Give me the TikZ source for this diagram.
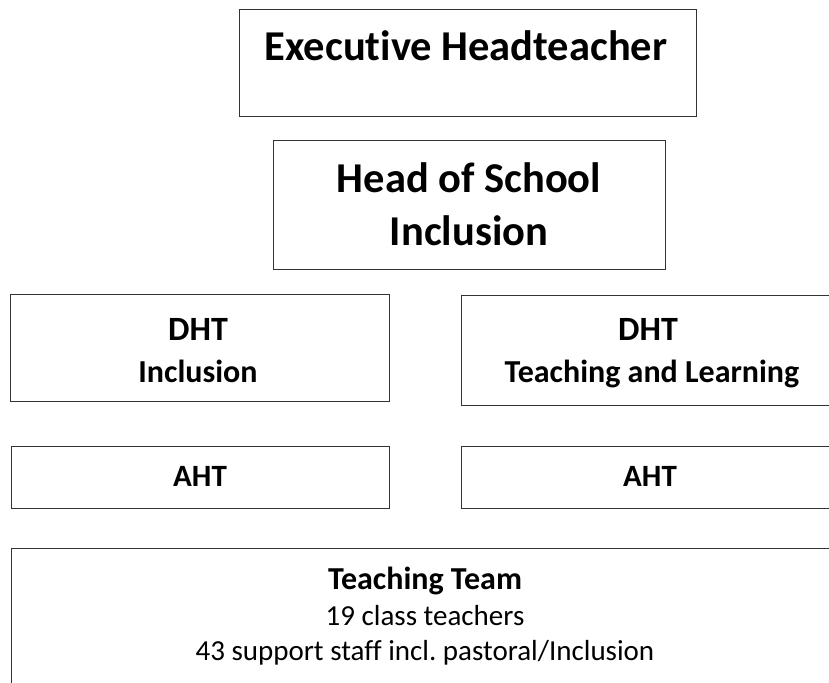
\documentclass[tikz,border=0pt]{standalone}
\usepackage{fontspec}
\setmainfont{Carlito}[Ligatures=NoCommon]
\frenchspacing
\tikzset{
  orgbox/.style={draw=black!80, line width=1.2pt, rectangle, inner sep=0pt, anchor=north west},
  txt/.style={anchor=base, inner sep=0pt, font=#1},
}
\begin{document}
\begin{tikzpicture}[x=1pt,y=-1pt]
\useasboundingbox (0,0) rectangle (829,682);
\clip (0,0) rectangle (829,682);
% boxes
\node[orgbox, minimum width=457pt, minimum height=107pt] (exec) at (239,9) {};
\node[orgbox, minimum width=392pt, minimum height=129pt] (hos) at (273,140) {};
\node[orgbox, minimum width=379pt, minimum height=107pt] (dhtL) at (10,294) {};
\node[orgbox, minimum width=378pt, minimum height=110pt] (dhtR) at (461,295) {};
\node[orgbox, minimum width=378pt, minimum height=62pt] (ahtL) at (11,446) {};
\node[orgbox, minimum width=378pt, minimum height=62pt] (ahtR) at (461,446) {};
\node[orgbox, minimum width=828pt, minimum height=160pt] (team) at (11,548) {};
% texts
\node[txt={\fontsize{42.5}{52}\bfseries}] (t1) at (466,61) {Executive Headteacher};
\node[txt={\fontsize{42.5}{52}\bfseries}] (t2) at (469,192) {Head of School};
\node[txt={\fontsize{42.5}{52}\bfseries}] (t3) at (469,245) {Inclusion};
\node[txt={\fontsize{34}{40}\bfseries}] (t4) at (198,340) {DHT};
\node[txt={\fontsize{32}{38}\bfseries}] (t5) at (198,382) {Inclusion};
\node[txt={\fontsize{34}{40}\bfseries}] (t6) at (648,340) {DHT};
\node[txt={\fontsize{32}{38}\bfseries}] (t7) at (652,382) {Teaching and Learning};
\node[txt={\fontsize{31}{38}\bfseries}] (t8) at (200,486) {AHT};
\node[txt={\fontsize{31}{38}\bfseries}] (t9) at (650,486) {AHT};
\node[txt={\fontsize{32}{38}\bfseries}] (t10) at (425,589) {Teaching Team};
\node[txt={\fontsize{29}{35}\selectfont}] (t11) at (425,625) {19 class teachers};
\node[txt={\fontsize{29}{35}\selectfont}] (t12) at (425,660) {43 support staff incl. pastoral/Inclusion};
\end{tikzpicture}
\end{document}
